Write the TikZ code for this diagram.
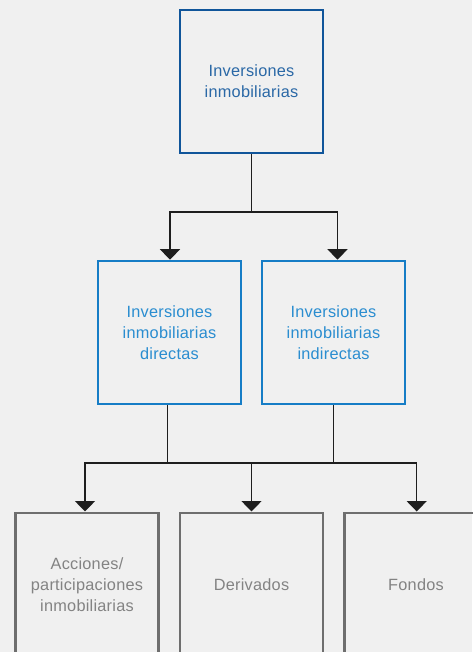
\documentclass[tikz,border=0pt]{standalone}
\usepackage{fontspec}
\setmainfont[LetterSpace=1.5]{Liberation Sans}
\usetikzlibrary{arrows.meta}
\definecolor{bg}{HTML}{F0F0F0}
\definecolor{topc}{HTML}{10559A}
\definecolor{toptext}{HTML}{2A68A6}
\definecolor{midc}{HTML}{167DC6}
\definecolor{midtext}{HTML}{2A8DD0}
\definecolor{lowc}{HTML}{6E6E6E}
\definecolor{lowtext}{HTML}{838383}
\definecolor{conn}{HTML}{1E1E1E}
\tikzset{
  box/.style={draw, rectangle, minimum width=143pt, minimum height=143pt, inner sep=0pt,
    align=center, font=\fontsize{16.3}{21}\selectfont},
  topbox/.style={box, draw=topc, line width=2.8pt, text=toptext},
  midbox/.style={box, draw=midc, line width=2.6pt, text=midtext},
  lowbox/.style={box, draw=lowc, line width=2.6pt, text=lowtext},
  conline/.style={draw=conn, line width=1.5pt},
  arr/.style={conline, -{Triangle[length=10.5pt,width=20pt]}}
}
\begin{document}
\begin{tikzpicture}[x=1pt,y=-1pt]
\fill[bg] (0,0) rectangle (472,652);
\useasboundingbox (0,0) rectangle (472,652);
\node[topbox] (top) at (251.5,81.5) {Inversiones\\inmobiliarias};
\node[midbox] (ml) at (169.5,332.5) {Inversiones\\inmobiliarias\\directas};
\node[midbox] (mr) at (333.5,332.5) {Inversiones\\inmobiliarias\\indirectas};
\node[lowbox] (b1) at (87,584.3) {Acciones/\\participaciones\\inmobiliarias};
\node[lowbox] (b2) at (251.5,584.3) {Derivados};
\node[lowbox] (b3) at (416,584.3) {Fondos};
\coordinate (j1) at (251.5,212);
\coordinate (j2) at (251.5,463);
\coordinate (t1) at ([xshift=0.5pt]ml.north);
\coordinate (t2) at ([xshift=4pt]mr.north);
\coordinate (s1) at ([xshift=-2pt]ml.south);
\coordinate (u1) at ([xshift=-2pt]b1.north);
\coordinate (u3) at ([xshift=0.7pt]b3.north);
\draw[conline] (top.south) -- (j1);
\draw[conline, line cap=rect] (t1 |- j1) -- (t2 |- j1);
\draw[arr] (t1 |- j1) -- (t1);
\draw[arr] (t2 |- j1) -- (t2);
\draw[conline] (s1) -- (s1 |- j2);
\draw[conline] (mr.south) -- (mr.south |- j2);
\draw[conline, line cap=rect] (u1 |- j2) -- (u3 |- j2);
\draw[arr] (u1 |- j2) -- (u1);
\draw[arr] (j2) -- (b2.north);
\draw[arr] (u3 |- j2) -- (u3);
\end{tikzpicture}
\end{document}
